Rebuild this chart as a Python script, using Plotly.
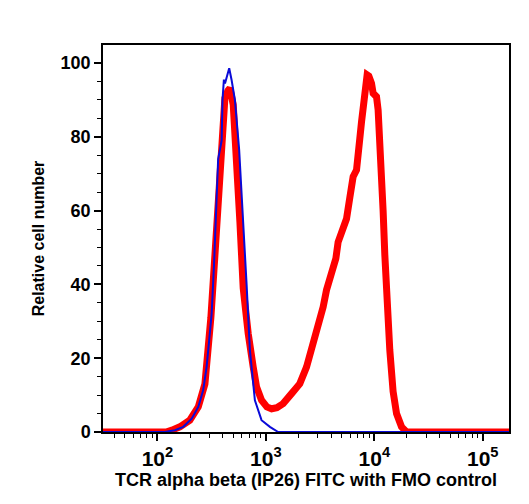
import plotly.graph_objects as go

# FMO control (blue)
fmo_x = [30, 117, 145, 173, 207, 238, 264, 284, 300, 316, 332, 352, 363, 391, 398, 410,
         420, 434, 459, 483, 518, 567, 618, 664, 713, 792, 912, 1089, 1298, 175000]
fmo_y = [0, 0, 0.5, 1.4, 3.6, 6.8, 11.3, 17.6, 24.9, 32, 45, 67, 74, 79, 90, 95.5,
         94.5, 96, 98.6, 95.4, 90, 76.5, 58, 40, 22, 8.6, 3.2, 1.4, 0, 0]

# TCR alpha beta FITC (red)
tcr_x = [30, 120, 136, 161, 199, 238, 274, 294, 311, 339, 361, 377, 397, 419, 446, 466,
         500, 537, 576, 618, 647, 687, 764, 821, 912, 1021, 1129, 1263, 1443, 1577,
         1725, 1890, 2056, 2370, 2636, 2930, 3145, 3375, 3625, 3893, 4172, 4418, 4637,
         4985, 5542, 5942, 6378, 6851, 7091, 7348, 7617, 8169, 8586, 8900, 9424, 9752,
         10477, 10842, 11241, 11650, 12052, 12499, 12950, 13891, 14900, 16030, 17820,
         19820, 175000]
tcr_y = [0, 0, 0.5, 1.4, 3.2, 6.8, 13, 22, 31, 48, 62, 73, 82, 90.5, 92.5, 93.2,
         88.7, 75, 57, 39, 33, 26.7, 17.6, 12.2, 8.6, 6.8, 6.3, 6.6, 7.7, 8.8,
         10.4, 11.8, 13.1, 17.6, 22.2, 27.6, 31.2, 33.9, 38.5, 42, 44.3, 47, 51.5,
         54.7, 57.8, 63.5, 69.2, 71, 78, 79.5, 84, 92.5, 96.8, 96.5, 94.5, 91.8,
         90.9, 87.3, 79, 73.7, 60, 48, 38, 22.2, 11, 5, 1.4,
         0, 0]

x_major = [100, 1000, 10000, 100000]
x_major_text = ["10<sup>2</sup>", "10<sup>3</sup>", "10<sup>4</sup>", "10<sup>5</sup>"]
x_minor = [m * 10 ** e for e in range(1, 6) for m in range(2, 10)]
y_major = [0, 20, 40, 60, 80, 100]

FAM = "Liberation Sans, Arial, sans-serif"

fig = go.Figure()
fig.add_trace(go.Scatter(x=tcr_x, y=tcr_y, mode="lines",
                         line=dict(color="#FF0000", width=7), showlegend=False))
fig.add_trace(go.Scatter(x=fmo_x, y=fmo_y, mode="lines",
                         line=dict(color="#0A0AD8", width=2), showlegend=False))

fig.update_layout(
    width=529, height=504,
    margin=dict(l=103, r=20, t=45, b=72),
    paper_bgcolor="white", plot_bgcolor="white",
    font=dict(family=FAM, color="black"),
    xaxis=dict(
        type="log", range=[1.498, 5.242],
        tickmode="array", tickvals=x_major,
        ticktext=["<b>" + t + "</b>" for t in x_major_text],
        ticks="outside", ticklen=7, tickwidth=1.5, tickcolor="black",
        minor=dict(tickmode="array", tickvals=x_minor, ticks="outside",
                   ticklen=4, tickwidth=1, tickcolor="black"),
        showline=True, linecolor="black", linewidth=1.5, mirror=True,
        showgrid=False, zeroline=False,
        tickfont=dict(size=21, family=FAM, color="black"),
        title=dict(text="<b>TCR alpha beta (IP26) FITC with FMO control</b>",
                   font=dict(size=18, family=FAM), standoff=2),
    ),
    yaxis=dict(
        range=[0, 104.9],
        tickmode="array", tickvals=y_major,
        ticktext=[f"<b>{v}</b>" for v in y_major],
        ticks="outside", ticklen=7, tickwidth=1.5, tickcolor="black",
        minor=dict(dtick=5, ticks="outside", ticklen=4, tickwidth=1, tickcolor="black"),
        showline=True, linecolor="black", linewidth=1.5, mirror=True,
        showgrid=False, zeroline=False,
        tickfont=dict(size=18, family=FAM, color="black"),
        title=dict(text="<b>Relative cell number</b>", font=dict(size=16, family=FAM),
                   standoff=12),
    ),
)

fig.write_html("out.html")
